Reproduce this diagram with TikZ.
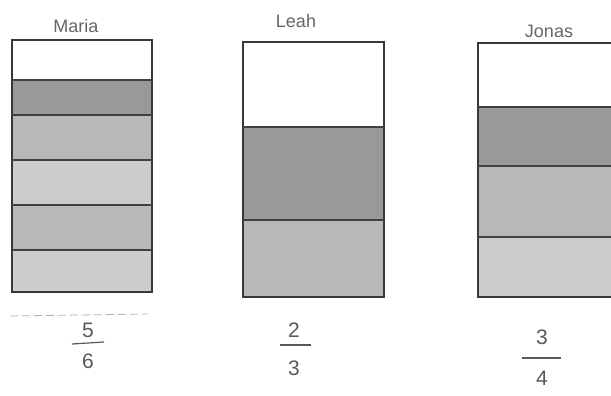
\documentclass[tikz,border=0pt]{standalone}
\usepackage{fontspec}
\setmainfont{Liberation Sans}
\begin{document}
\begin{tikzpicture}[x=1pt,y=-1pt,
  outline/.style={draw=black!78, line width=1.6pt},
  divider/.style={draw=black!75, line width=1.3pt},
  darkfill/.style={fill=black!40},
  midfill/.style={fill=black!28},
  lightfill/.style={fill=black!20},
  namelabel/.style={text=black!60, font=\fontsize{18}{18}\selectfont, inner sep=0pt},
  numlabel/.style={text=black!65, font=\fontsize{21}{21}\selectfont, inner sep=0pt},
  fracbar/.style={draw=black!65, line width=1.2pt}]
\useasboundingbox (0,0) rectangle (611,396);
\fill[white] (0,0) rectangle (611,396);

% ---------- Maria ----------
\fill[darkfill] (12,80) rectangle (152,115);
\fill[midfill] (12,115) rectangle (152,160);
\fill[lightfill] (12,160) rectangle (152,205);
\fill[midfill] (12,205) rectangle (152,250);
\fill[lightfill] (12,250) rectangle (152,292);
\draw[outline] (12,40) rectangle (152,292);
\foreach \yy in {80,115,160,205,250} \draw[divider] (12,\yy) -- (152,\yy);
\node[namelabel] (maria) at (76,26) {Maria};
\draw[black!30, line width=0.8pt, dash pattern=on 8pt off 4pt] (10,316) -- (148,314);
\node[numlabel] (m5) at (88,330) {5};
\draw[fracbar] (72,344) -- (104,342);
\node[numlabel] (m6) at (88,361) {6};

% ---------- Leah ----------
\fill[darkfill] (243,127) rectangle (384,220);
\fill[midfill] (243,220) rectangle (384,297);
\draw[outline] (243,42) rectangle (384,297);
\draw[divider] (243,127) -- (384,127);
\draw[divider] (243,220) -- (384,220);
\node[namelabel] (leah) at (296,21) {Leah};
\node[numlabel] (l2) at (294,330) {2};
\draw[fracbar] (280,345) -- (311,345);
\node[numlabel] (l3) at (294,368) {3};

% ---------- Jonas ----------
\fill[darkfill] (478,107) rectangle (620,166);
\fill[midfill] (478,166) rectangle (620,237);
\fill[lightfill] (478,237) rectangle (620,297);
\draw[outline] (478,43) rectangle (620,297);
\draw[divider] (478,107) -- (620,107);
\draw[divider] (478,166) -- (620,166);
\draw[divider] (478,237) -- (620,237);
\node[namelabel] (jonas) at (549,31) {Jonas};
\node[numlabel] (j3) at (542,337) {3};
\draw[fracbar] (522,358) -- (561,358);
\node[numlabel] (j4) at (542,378) {4};
\end{tikzpicture}
\end{document}
